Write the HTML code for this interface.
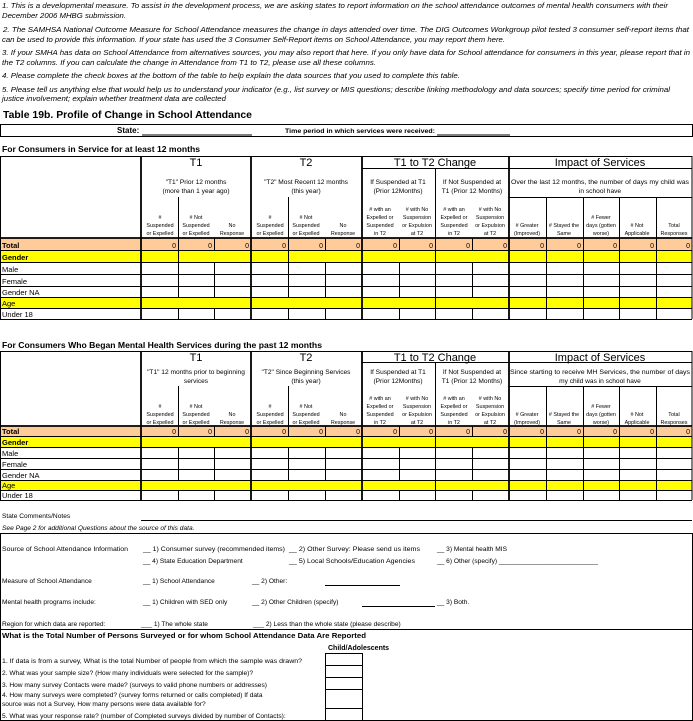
<!DOCTYPE html>
<html><head><meta charset="utf-8"><style>
html,body{margin:0;padding:0;background:#fff;width:693px;height:721px;overflow:hidden}
svg{display:block}
text{font-family:"Liberation Sans",Arial,sans-serif;fill:#000}
.n{font-size:7px;font-style:italic}
.l{font-size:7.5px}
.h{font-size:11px}
.s{font-size:6.6px}
.c{font-size:5.4px;text-anchor:middle}
.m{text-anchor:middle}
.z{font-size:7px;text-anchor:end}
.b{font-size:6.6px}
</style></head><body>
<svg width="693" height="721" viewBox="0 0 693 721" xmlns="http://www.w3.org/2000/svg">
<!-- notes -->
<text class="n" x="2" y="8" textLength="666" lengthAdjust="spacingAndGlyphs">1. This is a developmental measure. To assist in the development process, we are asking states to report information on the school attendance outcomes of mental health consumers with their</text>
<text class="n" x="2" y="18" textLength="124" lengthAdjust="spacingAndGlyphs">December 2006 MHBG submission.</text>
<text class="n" x="3" y="32" textLength="686" lengthAdjust="spacingAndGlyphs">2.  The SAMHSA National Outcome Measure for School Attendance measures the change in days attended over time.  The DIG Outcomes Workgroup pilot tested 3 consumer self-report items that</text>
<text class="n" x="2" y="42" textLength="503" lengthAdjust="spacingAndGlyphs">can be used to provide this information.  If your state has used the 3 Consumer Self-Report items on School Attendance, you may report them here.</text>
<text class="n" x="2" y="55" textLength="688" lengthAdjust="spacingAndGlyphs">3.  If your SMHA has data on School Attendance from alternatives sources, you may also report that here.  If you only have data for School attendance for consumers in this year, please report that in</text>
<text class="n" x="2" y="65" textLength="374" lengthAdjust="spacingAndGlyphs">the T2 columns.  If you can calculate the change in Attendance from T1 to T2, please use all these columns.</text>
<text class="n" x="2" y="78" textLength="458" lengthAdjust="spacingAndGlyphs">4.  Please complete the check boxes at the bottom of the table to help explain the data sources that you used to complete this table.</text>
<text class="n" x="2" y="92" textLength="668" lengthAdjust="spacingAndGlyphs">5.  Please tell us anything else that would help us to understand your indicator (e.g., list survey or MIS questions; describe linking methodology and data sources; specify time period for criminal</text>
<text class="n" x="2" y="101" textLength="224" lengthAdjust="spacingAndGlyphs">justice involvement; explain whether treatment data are collected</text>
<text x="3" y="118" style="font-size:10px;font-weight:bold" textLength="249" lengthAdjust="spacingAndGlyphs">Table 19b. Profile of Change in School Attendance</text>
<rect x="0.5" y="124.5" width="692" height="12" fill="none" stroke="#000"/>
<text x="117" y="133" style="font-size:8px;font-weight:bold">State:</text>
<line x1="142" y1="135" x2="252" y2="135" stroke="#000"/>
<text x="285" y="133" style="font-size:6px;font-weight:bold" textLength="150" lengthAdjust="spacingAndGlyphs">Time period in which services were received:</text>
<line x1="437" y1="135" x2="510" y2="135" stroke="#000"/>

<!-- TABLE 1 -->
<text x="2" y="152" style="font-size:8.5px;font-weight:bold" textLength="198" lengthAdjust="spacingAndGlyphs">For Consumers in Service for at least 12 months</text>
<rect x="0" y="238" width="692" height="12" fill="#ffcc99"/>
<rect x="0" y="250" width="692" height="12" fill="#ffff00"/>
<rect x="0" y="297" width="692" height="11" fill="#ffff00"/>
<path fill="none" stroke="#000" stroke-width="1" d="M0 156.5H692 M362 168.5H692 M509 197.5H692 M0 250.5H692 M0 262.5H692 M0 274.5H692 M0 286.5H692 M0 297.5H692 M0 308.5H692 M0 319.5H692
M0.5 156V319 M692 156V319 M435.5 168V319
M178.5 197V297 M178.5 308V319 M288.5 197V297 M288.5 308V319
M546.5 197V319 M583.5 197V319 M619.5 197V319 M656.5 197V319
M214.5 238V250 M214.5 262V297 M214.5 308V319 M325.5 238V250 M325.5 262V297 M325.5 308V319 M399.5 238V250 M399.5 262V297 M399.5 308V319 M472.5 238V250 M472.5 262V297 M472.5 308V319"/>
<path fill="none" stroke="#000" stroke-width="1.8" d="M0 238H692 M141 156V319 M251 156V319 M362 156V319 M509 156V319"/>
<text class="h m" x="196" y="166">T1</text>
<text class="h m" x="306" y="166">T2</text>
<text class="h m" x="435" y="166">T1 to T2 Change</text>
<text class="h m" x="600" y="166">Impact of Services</text>
<text class="s m" x="196" y="184">"T1" Prior 12 months</text><text class="s m" x="196" y="193">(more than 1 year ago)</text>
<text class="s m" x="306" y="184">"T2" Most Recent 12 months</text><text class="s m" x="306" y="193">(this year)</text>
<text class="s m" x="398" y="184">If Suspended at T1</text><text class="s m" x="398" y="193">(Prior 12Months)</text>
<text class="s m" x="472" y="184">If Not Suspended at</text><text class="s m" x="472" y="193">T1 (Prior 12 Months)</text>
<text class="s m" x="600" y="184" textLength="178" lengthAdjust="spacingAndGlyphs">Over the last 12 months, the number of days my child was</text><text class="s m" x="600" y="193">in school have</text>
<g class="c">
<text x="160" y="219">#</text><text x="160" y="227">Suspended</text><text x="160" y="235">or Expelled</text>
<text x="196" y="219"># Not</text><text x="196" y="227">Suspended</text><text x="196" y="235">or Expelled</text>
<text x="232" y="227">No</text><text x="232" y="235">Response</text>
<text x="270" y="219">#</text><text x="270" y="227">Suspended</text><text x="270" y="235">or Expelled</text>
<text x="306" y="219"># Not</text><text x="306" y="227">Suspended</text><text x="306" y="235">or Expelled</text>
<text x="343" y="227">No</text><text x="343" y="235">Response</text>
<text x="380" y="211"># with an</text><text x="380" y="219">Expelled or</text><text x="380" y="227">Suspended</text><text x="380" y="235">in T2</text>
<text x="417" y="211"># with No</text><text x="417" y="219">Suspension</text><text x="417" y="227">or Expulsion</text><text x="417" y="235">at T2</text>
<text x="454" y="211"># with an</text><text x="454" y="219">Expelled or</text><text x="454" y="227">Suspended</text><text x="454" y="235">in T2</text>
<text x="490" y="211"># with No</text><text x="490" y="219">Suspension</text><text x="490" y="227">or Expulsion</text><text x="490" y="235">at T2</text>
<text x="527" y="227"># Greater</text><text x="527" y="235">(Improved)</text>
<text x="564" y="227"># Stayed the</text><text x="564" y="235">Same</text>
<text x="601" y="219"># Fewer</text><text x="601" y="227">days (gotten</text><text x="601" y="235">worse)</text>
<text x="637" y="227"># Not</text><text x="637" y="235">Applicable</text>
<text x="674" y="227">Total</text><text x="674" y="235">Responses</text>
</g>
<g class="z">
<text x="176" y="248">0</text><text x="212" y="248">0</text><text x="249" y="248">0</text><text x="286" y="248">0</text><text x="323" y="248">0</text><text x="360" y="248">0</text><text x="397" y="248">0</text><text x="433" y="248">0</text><text x="470" y="248">0</text><text x="507" y="248">0</text><text x="544" y="248">0</text><text x="581" y="248">0</text><text x="617" y="248">0</text><text x="654" y="248">0</text><text x="690" y="248">0</text>
</g>
<g class="l">
<text x="2" y="248" style="font-weight:bold">Total</text>
<text x="2" y="260" style="font-weight:bold">Gender</text>
<text x="2" y="272">Male</text>
<text x="2" y="284">Female</text>
<text x="2" y="295">Gender NA</text>
<text x="2" y="306">Age</text>
<text x="2" y="317">Under 18</text>
</g>

<!-- TABLE 2 -->
<text x="2" y="348" style="font-size:8.5px;font-weight:bold" textLength="320" lengthAdjust="spacingAndGlyphs">For Consumers Who Began Mental Health Services during the past 12 months</text>
<rect x="0" y="426" width="692" height="10" fill="#ffcc99"/>
<rect x="0" y="436" width="692" height="11" fill="#ffff00"/>
<rect x="0" y="480" width="692" height="10" fill="#ffff00"/>
<path fill="none" stroke="#000" stroke-width="1" d="M0 351.5H692 M362 362.5H692 M509 386.5H692 M0 436.5H692 M0 447.5H692 M0 458.5H692 M0 469.5H692 M0 480.5H692 M0 490.5H692 M0 500.5H692
M0.5 351V500 M692 351V500 M435.5 362V500
M178.5 386V436 M178.5 447V480 M178.5 490V500 M288.5 386V436 M288.5 447V480 M288.5 490V500
M546.5 386V500 M583.5 386V500 M619.5 386V500 M656.5 386V500
M214.5 426V436 M214.5 447V480 M214.5 490V500 M325.5 426V436 M325.5 447V480 M325.5 490V500 M399.5 426V436 M399.5 447V480 M399.5 490V500 M472.5 426V436 M472.5 447V480 M472.5 490V500"/>
<path fill="none" stroke="#000" stroke-width="1.8" d="M0 426H692 M141 351V500 M251 351V500 M362 351V500 M509 351V500"/>
<text class="h m" x="196" y="361">T1</text>
<text class="h m" x="306" y="361">T2</text>
<text class="h m" x="435" y="361">T1 to T2 Change</text>
<text class="h m" x="600" y="361">Impact of Services</text>
<text class="s m" x="196" y="374">"T1" 12 months prior to beginning</text><text class="s m" x="196" y="383">services</text>
<text class="s m" x="306" y="374">"T2" Since Beginning Services</text><text class="s m" x="306" y="383">(this year)</text>
<text class="s m" x="398" y="374">If Suspended at T1</text><text class="s m" x="398" y="383">(Prior 12Months)</text>
<text class="s m" x="472" y="374">If Not Suspended at</text><text class="s m" x="472" y="383">T1 (Prior 12 Months)</text>
<text class="s m" x="600" y="374" textLength="180" lengthAdjust="spacingAndGlyphs">Since starting to receive MH Services, the number of days</text><text class="s m" x="600" y="383">my child was in school have</text>
<g class="c">
<text x="160" y="408">#</text><text x="160" y="416">Suspended</text><text x="160" y="424">or Expelled</text>
<text x="196" y="408"># Not</text><text x="196" y="416">Suspended</text><text x="196" y="424">or Expelled</text>
<text x="232" y="416">No</text><text x="232" y="424">Response</text>
<text x="270" y="408">#</text><text x="270" y="416">Suspended</text><text x="270" y="424">or Expelled</text>
<text x="306" y="408"># Not</text><text x="306" y="416">Suspended</text><text x="306" y="424">or Expelled</text>
<text x="343" y="416">No</text><text x="343" y="424">Response</text>
<text x="380" y="400"># with an</text><text x="380" y="408">Expelled or</text><text x="380" y="416">Suspended</text><text x="380" y="424">in T2</text>
<text x="417" y="400"># with No</text><text x="417" y="408">Suspension</text><text x="417" y="416">or Expulsion</text><text x="417" y="424">at T2</text>
<text x="454" y="400"># with an</text><text x="454" y="408">Expelled or</text><text x="454" y="416">Suspended</text><text x="454" y="424">in T2</text>
<text x="490" y="400"># with No</text><text x="490" y="408">Suspension</text><text x="490" y="416">or Expulsion</text><text x="490" y="424">at T2</text>
<text x="527" y="416"># Greater</text><text x="527" y="424">(Improved)</text>
<text x="564" y="416"># Stayed the</text><text x="564" y="424">Same</text>
<text x="601" y="408"># Fewer</text><text x="601" y="416">days (gotten</text><text x="601" y="424">worse)</text>
<text x="637" y="416"># Not</text><text x="637" y="424">Applicable</text>
<text x="674" y="416">Total</text><text x="674" y="424">Responses</text>
</g>
<g class="z">
<text x="176" y="434">0</text><text x="212" y="434">0</text><text x="249" y="434">0</text><text x="286" y="434">0</text><text x="323" y="434">0</text><text x="360" y="434">0</text><text x="397" y="434">0</text><text x="433" y="434">0</text><text x="470" y="434">0</text><text x="507" y="434">0</text><text x="544" y="434">0</text><text x="581" y="434">0</text><text x="617" y="434">0</text><text x="654" y="434">0</text><text x="690" y="434">0</text>
</g>
<g class="l">
<text x="2" y="434" style="font-weight:bold">Total</text>
<text x="2" y="445" style="font-weight:bold">Gender</text>
<text x="2" y="456">Male</text>
<text x="2" y="467">Female</text>
<text x="2" y="478">Gender NA</text>
<text x="2" y="488">Age</text>
<text x="2" y="498">Under 18</text>
</g>

<!-- BOTTOM -->
<text class="b" x="2" y="518">State Comments/Notes</text>
<line x1="141" y1="520.5" x2="692" y2="520.5" stroke="#000"/>
<text class="b" x="2" y="530" style="font-style:italic">See Page 2 for additional Questions about the source of this data.</text>
<rect x="0.5" y="533.5" width="692" height="187" fill="none" stroke="#000"/>
<line x1="0" y1="629.5" x2="692" y2="629.5" stroke="#000"/>
<g class="b">
<text x="2" y="551" textLength="126" lengthAdjust="spacingAndGlyphs">Source of School Attendance Information</text>
<text x="143" y="551" textLength="142" lengthAdjust="spacingAndGlyphs">__ 1) Consumer survey (recommended items)</text>
<text x="289" y="551" textLength="131" lengthAdjust="spacingAndGlyphs">__ 2) Other Survey: Please send us items</text>
<text x="437" y="551">__ 3) Mental health MIS</text>
<text x="143" y="563">__ 4) State Education Department</text>
<text x="289" y="563" textLength="126" lengthAdjust="spacingAndGlyphs">__ 5) Local Schools/Education Agencies</text>
<text x="437" y="563">__ 6)  Other (specify) ___________________________</text>
<text x="2" y="583">Measure of School Attendance</text>
<text x="143" y="583">__  1) School Attendance</text>
<text x="252" y="583">__ 2) Other:</text>
<line x1="325" y1="585.5" x2="400" y2="585.5" stroke="#000"/>
<text x="2" y="604">Mental health programs include:</text>
<text x="143" y="604">__ 1) Children with SED only</text>
<text x="252" y="604">__ 2) Other Children (specify)</text>
<line x1="362" y1="606.5" x2="435" y2="606.5" stroke="#000"/>
<text x="437" y="604">__ 3) Both.</text>
<text x="2" y="626">Region for which data are reported:</text>
<text x="141" y="626">___ 1) The whole state</text>
<text x="253" y="626">___ 2) Less than the whole state (please describe)</text>
<text x="2" y="638" style="font-weight:bold;font-size:7px" textLength="364" lengthAdjust="spacingAndGlyphs">What is the Total Number of Persons Surveyed or for whom School Attendance Data Are Reported</text>
<text x="328" y="650" style="font-weight:bold;font-size:7px">Child/Adolescents</text>
<text x="2" y="663" textLength="300" lengthAdjust="spacingAndGlyphs">1. If data is from a survey, What is the total Number of people from which the sample was drawn?</text>
<text x="2" y="675">2. What was your sample size? (How many individuals were selected for the sample)?</text>
<text x="2" y="687">3. How many survey Contacts were made? (surveys to valid phone numbers or addresses)</text>
<text x="2" y="697">4. How many surveys were completed? (survey forms returned or calls completed)   If data</text>
<text x="2" y="706">source was not a Survey, How many persons were data available for?</text>
<text x="2" y="718">5. What was your response rate? (number of Completed surveys divided by number of Contacts):</text>
</g>
<path fill="none" stroke="#000" d="M325.5 653V721 M362.5 653V721 M325 653.5H362 M325 665.5H362 M325 677.5H362 M325 689.5H362 M325 708.5H362"/>
</svg>
</body></html>
